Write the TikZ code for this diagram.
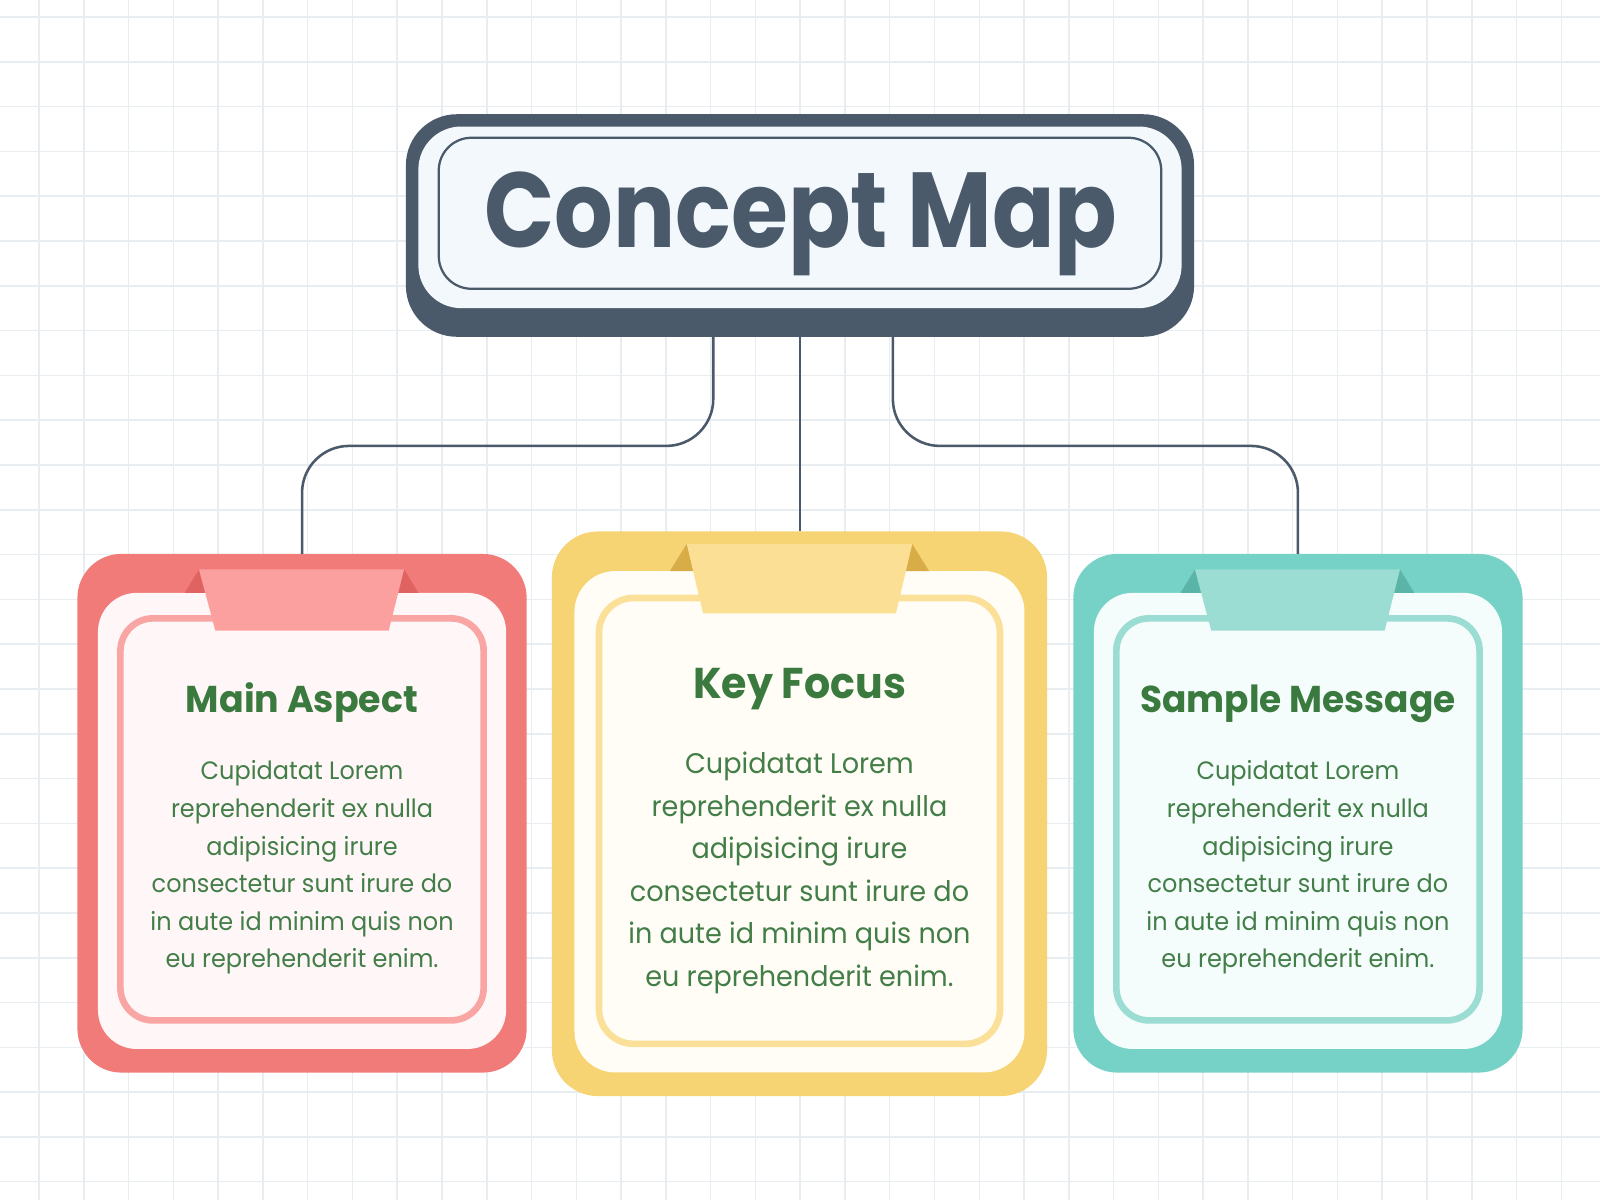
\documentclass[tikz,border=0pt]{standalone}
\usepackage{fontspec}
\usepackage{graphicx}
\setmainfont{Poppins}
\usetikzlibrary{calc}
\definecolor{dark}{HTML}{4A5A6A}
\definecolor{gridc}{HTML}{E8EDF2}
\definecolor{titlefill}{HTML}{F3F8FC}
\definecolor{headc}{HTML}{3B7A3F}
\definecolor{bodyc}{HTML}{437E48}
\definecolor{redO}{HTML}{F07B78}
\definecolor{redI}{HTML}{FFF7F7}
\definecolor{redL}{HTML}{F9A5A3}
\definecolor{redT}{HTML}{FCA09F}
\definecolor{redD}{HTML}{DF6461}
\definecolor{yelO}{HTML}{F6D373}
\definecolor{yelI}{HTML}{FFFDF5}
\definecolor{yelL}{HTML}{FBE09A}
\definecolor{yelT}{HTML}{FADF94}
\definecolor{yelD}{HTML}{D8AD48}
\definecolor{tealO}{HTML}{76D2C6}
\definecolor{tealI}{HTML}{F5FDFC}
\definecolor{tealL}{HTML}{9BDCD3}
\definecolor{tealT}{HTML}{9BDCD3}
\definecolor{tealD}{HTML}{5AB4A8}
\newcommand{\bodytext}{\scalebox{0.955}[1]{\begin{tabular}[t]{@{}c@{}}Cupidatat Lorem\\reprehenderit ex nulla\\adipisicing irure\\consectetur sunt irure do\\in aute id minim quis non\\eu reprehenderit enim.\end{tabular}}}
\newcommand{\squeeze}[2]{\scalebox{#1}[1]{#2}}
\begin{document}
\begin{tikzpicture}[x=0.01cm,y=-0.01cm,
  gridline/.style={draw=gridc, line width=0.015cm},
  conn/.style={draw=dark, line width=0.025cm, rounded corners=0.46cm},
  cardframe/.style={inner sep=0pt, outer sep=0pt},
  headsmall/.style={anchor=base, text=headc, inner sep=0pt, font=\fontsize{10.4}{12}\selectfont\bfseries},
  headbig/.style={anchor=base, text=headc, inner sep=0pt, font=\fontsize{12}{14}\selectfont\bfseries},
  bodysmall/.style={anchor=base, text=bodyc, inner sep=0pt, font=\fontsize{7}{10.47}\selectfont},
  bodybig/.style={anchor=base, text=bodyc, inner sep=0pt, font=\fontsize{7.9}{11.84}\selectfont}]
% background and grid
\fill[white] (0,0) rectangle (1568,1176);
\useasboundingbox (0,0) rectangle (1568,1176);
\foreach \i in {0,...,35} {\draw[gridline] ({38.2+43.88*\i},0) -- ({38.2+43.88*\i},1176);}
\foreach \j in {0,...,26} {\draw[gridline] (0,{16.7+43.9*\j}) -- (1568,{16.7+43.9*\j});}
% title
\node[cardframe, fill=dark, rounded corners=0.5cm, minimum width=7.72cm, minimum height=2.18cm] (frame) at (784,221) {};
\fill[titlefill, rounded corners=0.42cm] (410,124) rectangle (1158,302);
\draw[dark, line width=0.022cm, rounded corners=0.32cm] (430,135) rectangle (1138,283);
\node[anchor=base, text=dark, inner sep=0pt, font=\fontsize{29.7}{32}\selectfont\bfseries] (title) at (785,243) {\squeeze{0.865}{Concept Map}};
% red card
\node[cardframe, fill=redO, rounded corners=0.43cm, minimum width=4.4cm, minimum height=5.08cm] (red) at (296,797) {};
\fill[redI, rounded corners=0.38cm] (96,581) rectangle (496,1028);
\draw[redL, line width=0.065cm, rounded corners=0.32cm] (118,606) rectangle (474,1000);
\fill[redD] (195,558) -- (181,581) -- (205,581) -- cycle;
\fill[redD] (396,558) -- (410,581) -- (386,581) -- cycle;
\fill[redT] (195,558) -- (396,558) -- (381,618) -- (211,618) -- cycle;
\node[headsmall] (redh) at (296,698.4) {\squeeze{0.975}{Main Aspect}};
\node[bodysmall] (redb) at (296,764.4) {\bodytext};
% yellow card
\node[cardframe, fill=yelO, rounded corners=0.45cm, minimum width=4.85cm, minimum height=5.53cm] (yel) at (783.5,797.5) {};
\fill[yelI, rounded corners=0.4cm] (563,559.6) rectangle (1004,1051);
\draw[yelL, line width=0.065cm, rounded corners=0.34cm] (587,586) rectangle (980,1023);
\fill[yelD] (673,533) -- (656.6,559.6) -- (681,559.6) -- cycle;
\fill[yelD] (894,533) -- (910.4,559.6) -- (886,559.6) -- cycle;
\fill[yelT] (673,533) -- (894,533) -- (878,601) -- (689,601) -- cycle;
\node[headbig] (yelh) at (783.5,684.3) {\squeeze{0.955}{Key Focus}};
\node[bodybig] (yelb) at (783.5,758.5) {\bodytext};
% teal card
\node[cardframe, fill=tealO, rounded corners=0.43cm, minimum width=4.4cm, minimum height=5.08cm] (teal) at (1272,797) {};
\fill[tealI, rounded corners=0.38cm] (1072,581) rectangle (1472,1028);
\draw[tealL, line width=0.065cm, rounded corners=0.32cm] (1094,606) rectangle (1450,1000);
\fill[tealD] (1171,558) -- (1157,581) -- (1181,581) -- cycle;
\fill[tealD] (1372,558) -- (1386,581) -- (1362,581) -- cycle;
\fill[tealT] (1171,558) -- (1372,558) -- (1357,618) -- (1187,618) -- cycle;
\node[headsmall] (tealh) at (1272,698.4) {\squeeze{0.962}{Sample Message}};
\node[bodysmall] (tealb) at (1272,764.4) {\bodytext};
% connectors
\coordinate (c1) at ($(frame.south)+(-85,0)$);
\coordinate (c3) at ($(frame.south)+(91,0)$);
\coordinate (bus) at (784,437);
\draw[conn] (c1) -- (c1 |- bus) -- (red.north |- bus) -- (red.north);
\draw[conn] (c3) -- (c3 |- bus) -- (teal.north |- bus) -- (teal.north);
\draw[conn] (frame.south) -- (frame.south |- yel.north);
\end{tikzpicture}
\end{document}
